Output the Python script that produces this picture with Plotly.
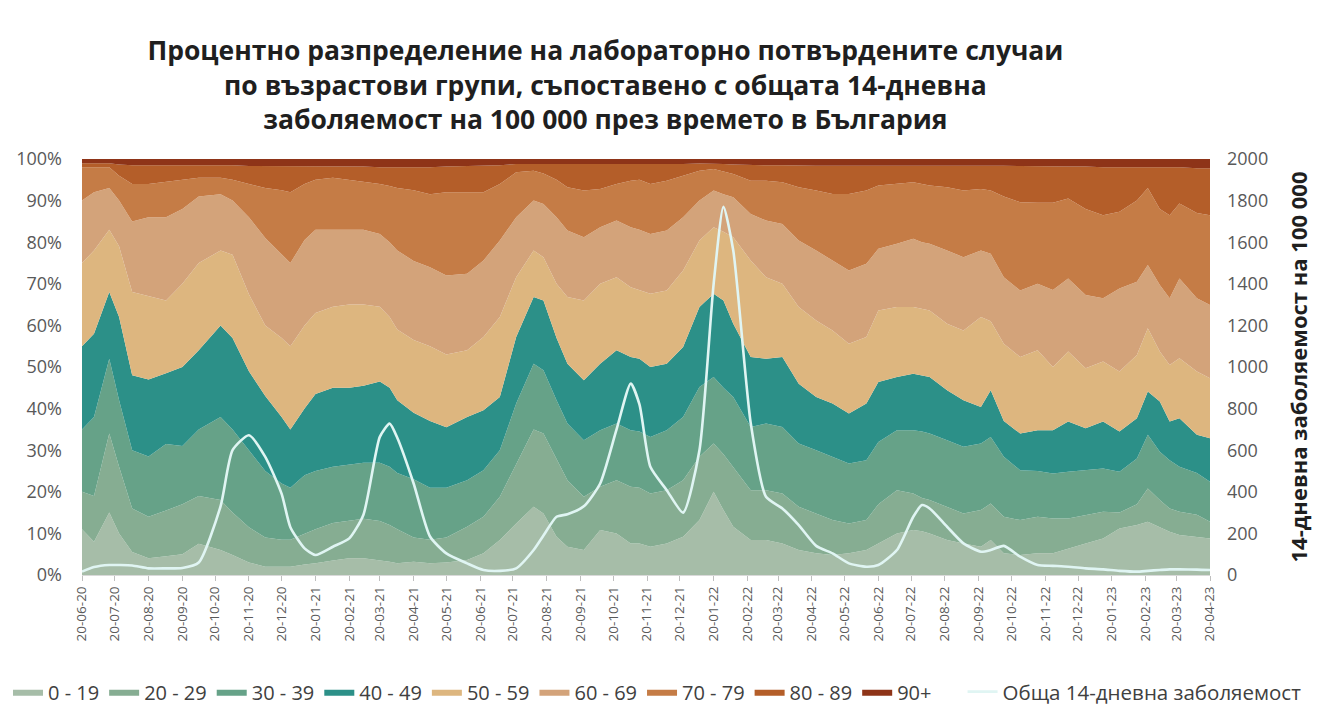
import numpy as np
import plotly.graph_objects as go

# ---------------- data ----------------
dates = [
    "2020-06-20", "2020-07-01", "2020-07-15", "2020-07-24", "2020-08-05", "2020-08-20", "2020-09-05",
    "2020-09-20", "2020-10-05", "2020-10-25", "2020-11-05", "2020-11-20", "2020-12-05", "2020-12-20",
    "2020-12-28", "2021-01-10", "2021-01-20", "2021-02-05", "2021-02-20", "2021-03-05", "2021-03-20",
    "2021-03-29", "2021-04-05", "2021-04-20", "2021-05-05", "2021-05-20",
    "2021-06-08", "2021-06-23", "2021-07-08", "2021-07-23", "2021-08-08", "2021-08-17", "2021-08-29",
    "2021-09-08", "2021-09-23", "2021-10-08", "2021-10-23", "2021-11-05", "2021-11-13", "2021-11-23",
    "2021-12-08", "2021-12-23", "2022-01-07", "2022-01-20", "2022-01-29", "2022-02-07", "2022-02-23",
    "2022-03-09", "2022-03-24", "2022-04-08", "2022-04-24", "2022-05-09", "2022-05-24", "2022-06-09",
    "2022-06-20", "2022-07-07", "2022-07-22", "2022-07-30", "2022-08-06", "2022-08-22", "2022-09-06",
    "2022-09-22", "2022-10-01", "2022-10-13", "2022-10-28", "2022-11-13", "2022-11-27", "2022-12-11",
    "2022-12-27", "2023-01-12", "2023-01-27", "2023-02-12", "2023-02-22", "2023-03-05", "2023-03-14",
    "2023-03-23", "2023-04-08", "2023-04-20",
]

# cumulative upper edge (in %) of each age-group layer
top_0_19 = [11, 8, 15, 10, 5.5, 4, 4.5, 5, 7.5, 6, 4.8, 3, 2, 2, 2, 2.5, 2.8, 3.5, 4, 4, 3.6, 3.2, 2.8, 3.2, 2.8, 3,
            3.6, 5.2, 8.4, 12.4, 16.4, 14.8, 9.2, 6.8, 6, 10.8, 10, 7.6, 7.6, 6.8, 7.6, 9.2, 13.2, 20, 15.6, 11.6,
            8.4, 8.4, 7.6, 6, 5.2, 4.8, 5.2, 6,
            7.6, 10, 10.8, 10.5, 10, 8.4, 7.6, 6.8, 8.4, 5.2, 4.8, 5.2, 5.2, 6.4, 7.6, 8.8, 11.2, 12, 12.8, 11.5,
            10.4, 9.6, 9.2, 8.8]
top_20_29 = [20, 19, 34, 26, 16, 14, 15.5, 17, 19, 18, 15, 11.5, 9, 8.5, 8.5, 10, 11, 12.5, 13, 13.5, 13, 12, 11, 9, 8.5, 9,
             11.6, 14, 18.8, 26.8, 35, 34, 28, 22.8, 18.8, 21.2, 22.8, 21.2, 21, 19.6, 20.4, 22.8, 28.4, 31.6, 29, 26,
             20.4, 20.4, 19.6, 16.4, 14.8, 13.2, 12.4, 13.2,
             17, 20.4, 19.6, 18.5, 18, 16.4, 14.8, 15.6, 17.2, 14, 13.2, 14, 13.6, 13.6, 14.4, 15.2, 15, 17, 20.8, 18,
             16, 15.2, 14.5, 12.8]
top_30_39 = [35, 38, 52, 42, 30, 28.5, 31.5, 31, 35, 38, 35, 30, 25, 22, 21, 24, 25, 26, 26.5, 27, 27, 26, 24.5, 23, 21, 21,
             22.8, 25.2, 30, 41.2, 50.8, 49.2, 42, 36.4, 32.4, 34.8, 36.4, 34.8, 34.5, 33.2, 34.8, 38, 45.2, 47.6, 45,
             42.8, 35.6, 36.4, 35.6, 31.6, 30, 28.4, 26.8, 27.6,
             32, 34.8, 34.8, 34.5, 34, 32.4, 30.8, 31.6, 33.2, 28.4, 25.2, 25, 24.4, 24.8, 25.2, 25.6, 24.8, 28, 33.7,
             29.6, 27.6, 26, 24.5, 22.4]
top_40_49 = [55, 58, 68, 62, 48, 47, 48.5, 50, 54, 60, 57, 49, 43, 38, 35, 40, 43.5, 45, 45, 45.5, 46.5, 45, 42, 39, 37, 35.5,
             38, 39.6, 42.8, 57.2, 66.8, 66, 57, 50.8, 46.8, 50.8, 54, 52.4, 52, 50, 50.8, 54.8, 64.4, 67.6, 66, 60.4,
             52.4, 52, 52.4, 46, 42.8, 41.2, 38.8, 41.2,
             46.4, 47.6, 48.4, 48, 47.6, 44.4, 42, 40.4, 44.4, 37, 34, 34.8, 34.8, 36.9, 35.3, 36.9, 34.5, 37.7, 44.1,
             41.7, 36.9, 37.7, 33.7, 32.9]
top_50_59 = [75, 78, 83, 79, 68, 67, 66, 70, 75, 78, 77, 67.5, 60, 57, 55, 60, 63, 64.5, 65, 65, 64.5, 62, 59, 56.5, 55, 53,
             54, 57.2, 62, 71.6, 78, 76.4, 70, 66.8, 66, 70, 71.6, 69.2, 68.5, 67.6, 68.4, 73.2, 80.4, 83.6, 82.5, 81.2,
             75.6, 71.6, 70, 64.4, 61.2, 58.8, 55.6, 57.2,
             63.6, 64.4, 64.4, 64, 63.6, 60.4, 58.8, 62, 61, 55.6, 52.4, 54, 50, 53.7, 49.7, 51.3, 48.9, 52.9, 59.3,
             53.7, 50.5, 52.1, 48.9, 47.3]
top_60_69 = [90, 92, 93, 90, 85, 86, 86, 88, 91, 91.5, 90, 86, 81, 77, 75, 80.5, 83, 83, 83, 83, 82, 80, 78, 75.5, 74, 72,
             72.4, 75.6, 80.4, 86, 90, 89.2, 86, 82.8, 81.2, 83.6, 85.2, 83.6, 83, 82, 82.8, 86, 90, 92.4, 91.5, 90.8,
             86.8, 85.2, 84.4, 80.4, 78, 75.6, 73.2, 74.8,
             78.4, 79.6, 80.8, 80, 79.6, 78, 76.4, 78, 77.2, 71.6, 68.4, 70, 68.5, 71.3, 67.3, 66.5, 68.9, 70.5, 74.5,
             69.7, 66.5, 71.3, 66.5, 64.9]
top_70_79 = [98, 98, 98, 96, 94, 94, 94.5, 95, 95.5, 95.5, 95, 94, 93, 92.5, 92, 94, 95, 95.5, 95, 94.5, 94, 93.5, 93, 92.5,
             91.5, 92,
             92, 92, 94, 96.8, 97.2, 96.5, 95, 93.2, 92.4, 92.8, 94, 94.8, 95, 94, 94.8, 96, 97.2, 97.6, 97, 96.4,
             94.8, 94.8, 94.4, 93.2, 92.4, 91.6, 91.6, 92.4,
             93.6, 94, 94.4, 94, 93.6, 93.2, 92.4, 92.8, 92.4, 91, 89.6, 89.5, 89.5, 90.5, 88, 86.5, 87.3, 90, 93, 88,
             86.5, 89.3, 87, 86.5]
top_80_89 = [99, 99, 99, 98.7, 98.5, 98.5, 98.5, 98.5, 98.5, 98.5, 98.5, 98.3, 98.3, 98.2, 98.2, 98.2, 98.2, 98.2, 98.2,
             98.2, 98, 98, 98, 98, 98, 98.2,
             98.3, 98.3, 98.5, 98.8, 98.8, 98.8, 98.8, 98.7, 98.7, 98.7, 98.7, 98.7, 98.7, 98.7, 98.7, 98.8, 98.9,
             98.9, 98.8, 98.7, 98.5, 98.5, 98.5, 98.4, 98.4, 98.4, 98.4, 98.4,
             98.4, 98.5, 98.5, 98.5, 98.5, 98.5, 98.5, 98.5, 98.5, 98.4, 98.3, 98.2, 98.2, 98.2, 98.2, 98, 98, 98, 98,
             98, 98, 98, 97.8, 97.8]

# total 14-day incidence per 100 000 (right axis)
incidence = [16, 38, 48, 48, 46, 32, 32, 34, 60, 330, 600, 672, 568, 390, 230, 128, 96, 136, 176, 290, 664, 728, 660,
             440, 185, 104,
             56, 24, 20, 32, 120, 190, 280, 292, 330, 440, 700, 920, 820, 520, 408, 300, 600, 1400, 1770, 1560, 730,
             376, 320, 240, 140, 104, 56, 40,
             48, 120, 280, 336, 320, 232, 152, 112, 120, 140, 88, 48, 44, 40, 32, 27, 20, 16, 20, 24, 27, 27, 26, 24]

age_groups = ["0 - 19", "20 - 29", "30 - 39", "40 - 49", "50 - 59", "60 - 69", "70 - 79", "80 - 89", "90+"]
line_name = "Обща 14-дневна заболяемост"
title_text = ("<b>Процентно разпределение на лабораторно потвърдените случаи<br>"
              "по възрастови групи, съпоставено с общата 14-дневна<br>"
              "заболяемост на 100 000 през времето в България</b>")
y2_title = "<b>14-дневна заболяемост на 100 000</b>"
pct_ticks = list(range(0, 101, 10))
pct_labels = [f"{v}%" for v in pct_ticks]

colors = ["#A6BDA8", "#86AD92", "#66A288", "#2C9088", "#DDB67F", "#D3A37A", "#C57C46", "#B45E29", "#8E3418"]

# ---------------- figure ----------------
edges = np.vstack([np.zeros(len(dates)), top_0_19, top_20_29, top_30_39, top_40_49, top_50_59,
                   top_60_69, top_70_79, top_80_89, np.full(len(dates), 100.0)])
shares = np.diff(edges, axis=0)

FONT = "Open Sans"
W, H = 1313, 705   # page body has an 8 px margin inside the 1321x713 window

fig = go.Figure()
for name, col, vals in zip(age_groups, colors, shares):
    fig.add_trace(go.Scatter(
        x=dates, y=vals, name=name, mode="lines", stackgroup="one",
        line=dict(width=0, color=col), fillcolor=col, legend="legend",
    ))

fig.add_trace(go.Scatter(
    x=dates, y=incidence, name=line_name, mode="lines", yaxis="y2", legend="legend2",
    line=dict(color="#E0F5F3", width=2.6, shape="spline", smoothing=0.6),
))

fig.update_layout(
    width=W, height=H,
    margin=dict(l=74, r=111, t=151, b=138, autoexpand=False),
    paper_bgcolor="white", plot_bgcolor="white",
    font=dict(family=FONT, color="#595959"),
    title=dict(text=title_text, x=0.455, xanchor="center", y=0.926, yanchor="middle",
               font=dict(family=FONT, size=26.5, color="#1f1f1f")),
    xaxis=dict(
        type="date", range=["2020-06-20", "2023-04-20"],
        tick0="2020-06-20", dtick="M1", tickformat="%d-%m-%y", tickangle=-90,
        tickfont=dict(size=13.5, color="#595959"),
        ticks="outside", ticklen=5, tickcolor="#bfbfbf",
        showline=True, linecolor="#d9d9d9", showgrid=False, zeroline=False,
        automargin=False,
    ),
    yaxis=dict(
        range=[0, 100], tickvals=pct_ticks, ticktext=pct_labels,
        tickfont=dict(size=18, color="#595959"), showgrid=False, zeroline=False,
        showline=False, ticklabelstandoff=19, automargin=False,
    ),
    yaxis2=dict(
        range=[0, 2000], dtick=200, overlaying="y", side="right",
        tickfont=dict(size=18, color="#595959"), showgrid=False, zeroline=False,
        showline=False, ticklabelstandoff=16, automargin=False,
        title=dict(text=y2_title, font=dict(size=22, color="#1f1f1f"), standoff=24),
    ),
    legend=dict(
        orientation="h", xref="container", yref="container",
        x=0.0, xanchor="left", y=0.03, yanchor="middle",
        font=dict(size=20, color="#404040"), traceorder="normal",
        itemwidth=30, tracegroupgap=0,
    ),
    legend2=dict(
        orientation="h", xref="container", yref="container",
        x=0.727, xanchor="left", y=0.03, yanchor="middle",
        font=dict(size=20.5, color="#404040"), itemwidth=30,
    ),
    showlegend=True,
    hovermode="x unified",
)

fig.write_html("out.html")
